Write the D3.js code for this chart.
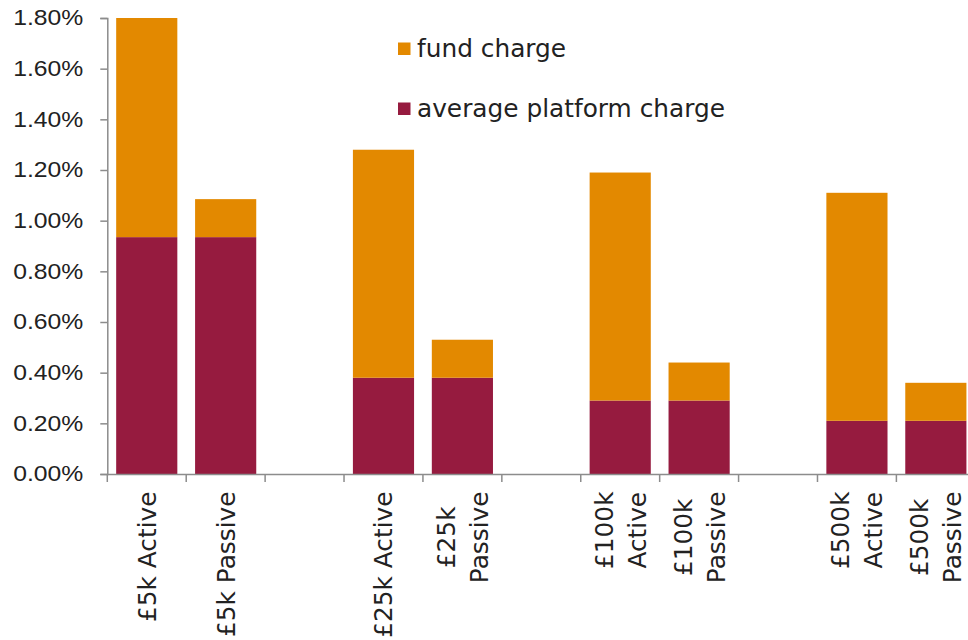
<!DOCTYPE html>
<html>
<head>
<meta charset="utf-8">
<script src="https://cdn.jsdelivr.net/npm/d3@7/dist/d3.min.js"></script>
<style>
  body { margin: 0; background: #fff; }
  svg { display: block; }
</style>
</head>
<body>
<div id="chart"></div>
<script>
// categories along the x axis (blank ones are the gaps between groups)
var categories = ["£5k Active", "£5k Passive", "gap1", "£25k Active", "£25k Passive", "gap2",
                  "£100k Active", "£100k Passive", "gap3", "£500k Active", "£500k Passive"];
// label lines as they wrap in the picture
var labelLines = [["£5k Active"], ["£5k Passive"], [], ["£25k Active"], ["£25k", "Passive"], [],
                  ["£100k", "Active"], ["£100k", "Passive"], [], ["£500k", "Active"], ["£500k", "Passive"]];
// values in percent
var platformCharge = [0.935, 0.935, null, 0.38, 0.38, null, 0.29, 0.29, null, 0.21, 0.21];
var fundCharge = [0.865, 0.15, null, 0.90, 0.15, null, 0.90, 0.15, null, 0.90, 0.15];
var yTicks = [0, 0.2, 0.4, 0.6, 0.8, 1.0, 1.2, 1.4, 1.6, 1.8];
var seriesNames = ["fund charge", "average platform charge"];
var colors = { fund: "#e38900", platform: "#961b3f" };

var width = 968, height = 640;
var svg = d3.select("#chart").append("svg")
    .attr("width", width)
    .attr("height", height);

var x = d3.scaleBand()
    .domain(categories)
    .range([107.3, 975.3])
    .paddingInner(0.225)
    .paddingOuter(0.1125);

var y = d3.scaleLinear()
    .domain([0, 1.8])
    .range([474, 18]);

// stack the two series
var data = categories.map(function(c, i) {
    return { cat: c, platform: platformCharge[i], fund: fundCharge[i] };
}).filter(function(d) { return d.platform != null; });

// platform charge (bottom)
svg.append("g").selectAll("rect.platform")
    .data(data)
    .enter().append("rect")
    .attr("class", "platform")
    .attr("x", function(d) { return x(d.cat); })
    .attr("width", x.bandwidth())
    .attr("y", function(d) { return y(d.platform); })
    .attr("height", function(d) { return y(0) - y(d.platform); })
    .style("fill", colors.platform);

// fund charge (top)
svg.append("g").selectAll("rect.fund")
    .data(data)
    .enter().append("rect")
    .attr("class", "fund")
    .attr("x", function(d) { return x(d.cat); })
    .attr("width", x.bandwidth())
    .attr("y", function(d) { return y(d.platform + d.fund); })
    .attr("height", function(d) { return y(d.platform) - y(d.platform + d.fund); })
    .style("fill", colors.fund);

// Y axis
var yAxis = svg.append("g")
    .attr("transform", "translate(107.3,0)")
    .call(d3.axisLeft(y)
        .tickValues(yTicks)
        .tickSize(7)
        .tickPadding(17)
        .tickFormat(function(d) { return d3.format(".2f")(d) + "%"; }));
yAxis.selectAll("path, line").style("stroke", "#8c8c8c").style("stroke-width", 1.5);
yAxis.selectAll("text")
    .attr("x", 0)
    .attr("transform", "translate(-24,0) scale(1.15,1)")
    .style("font-family", "'Liberation Sans', Arial, sans-serif")
    .style("font-size", "21.5px")
    .style("fill", "#222");

// X axis: just the line, ticks go between categories
var xAxis = svg.append("g")
    .attr("transform", "translate(0,474)")
    .call(d3.axisBottom(x).tickSize(0).tickFormat(""));
xAxis.select("path").style("stroke", "#8c8c8c").style("stroke-width", 1.5);

var step = x.step();
var edges = categories.map(function(c) { return x(c) - (step - x.bandwidth()) / 2; });
edges.push(edges[edges.length - 1] + step);
xAxis.selectAll("line.edge")
    .data(edges)
    .enter().append("line")
    .attr("class", "edge")
    .attr("x1", function(d) { return d; })
    .attr("x2", function(d) { return d; })
    .attr("y1", 0)
    .attr("y2", 8)
    .style("stroke", "#8c8c8c")
    .style("stroke-width", 1.5);

// rotated category labels, block top-aligned under the axis, lines centred
var labelTop = 491.5, lineH = 33, fs = 24.8;
categories.forEach(function(c, i) {
    var lines = labelLines[i];
    if (!lines.length) return;
    var cx = x(c) + x.bandwidth() / 2;
    var t = svg.append("text")
        .attr("transform", "translate(" + cx + "," + labelTop + ") rotate(-90)")
        .attr("text-anchor", "middle")
        .style("font-family", "'DejaVu Sans', Verdana, sans-serif")
        .style("font-size", fs + "px")
        .style("fill", "#222");
    var spans = lines.map(function(l, k) {
        return t.append("tspan")
            .attr("y", (k - (lines.length - 1) / 2) * lineH + 0.36 * fs)
            .text(l);
    });
    var maxLen = d3.max(spans, function(s) { return s.node().getComputedTextLength(); });
    spans.forEach(function(s) { s.attr("x", -maxLen / 2); });
});

// legend
var legend = svg.append("g");
var legendRows = [
    { name: seriesNames[0], color: colors.fund, base: 57 },
    { name: seriesNames[1], color: colors.platform, base: 117 }
];
legendRows.forEach(function(r) {
    legend.append("rect")
        .attr("x", 398)
        .attr("y", r.base - 14.5)
        .attr("width", 12.5)
        .attr("height", 12.5)
        .style("fill", r.color);
    legend.append("text")
        .attr("x", 417)
        .attr("y", r.base)
        .style("font-family", "'DejaVu Sans', Verdana, sans-serif")
        .style("font-size", "24.8px")
        .style("fill", "#222")
        .text(r.name);
});
</script>
</body>
</html>
